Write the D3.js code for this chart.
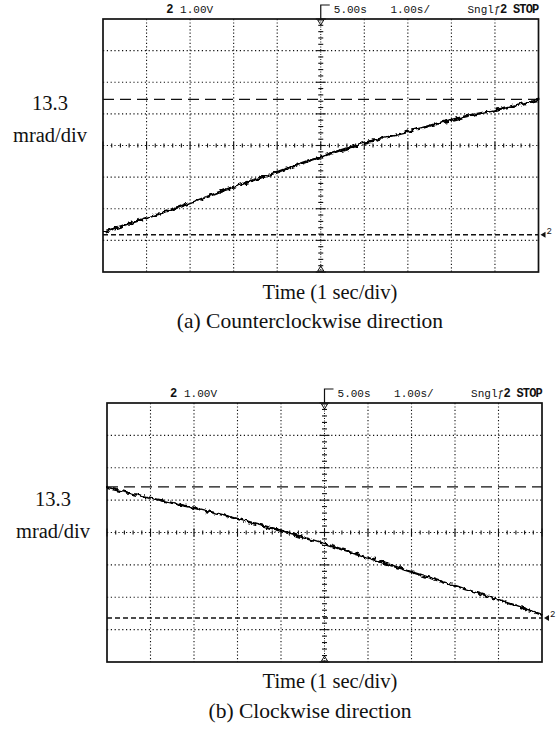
<!DOCTYPE html>
<html>
<head>
<meta charset="utf-8">
<script src="https://cdn.jsdelivr.net/npm/d3@7"></script>
<style>
    body { margin: 0; background: #fff; }
    svg { display: block; }
    .label { font-family: "Liberation Serif", "Times New Roman", serif; fill: #111; }
    .scope { font-family: "Liberation Mono", "DejaVu Sans Mono", monospace; fill: #111; }
</style>
</head>
<body>
<svg id="figure" width="557" height="736"></svg>
<script>
// time axis (seconds), one point per division
const traceTimes = [0, 1, 2, 3, 4, 5, 6, 7, 8, 9, 10];

// trace values in screen divisions from centre line (13.3 mrad/div)
const ccwTrace = [-2.74, -2.29, -1.82, -1.31, -0.84, -0.36, 0.08, 0.43, 0.81, 1.12, 1.44];
const cwTrace = [1.38, 1.07, 0.76, 0.42, 0.05, -0.35, -0.78, -1.22, -1.65, -2.08, -2.54];

// cursor (dashed) levels in divisions
const ccwCursors = [1.46, -2.82];
const cwCursors = [1.41, -2.64];

// scope header text
const headerChannel = "2";
const headerVolts = "1.00V";
const headerDelay = "5.00s";
const headerTimebase = "1.00s/";
const headerMode = "Sngl";
const headerStop = "2 STOP";

const scaleLabel = ["13.3", "mrad/div"];
const timeLabel = "Time (1 sec/div)";
const captions = ["(a) Counterclockwise direction", "(b) Clockwise direction"];

const panels = [
    { trace: ccwTrace, cursors: ccwCursors, caption: captions[0],
      left: 103, right: 538.5, top: 19, bottom: 272,
      labelX: 50, labelY: [110, 142], timeY: 299, captionY: 328 },
    { trace: cwTrace, cursors: cwCursors, caption: captions[1],
      left: 107, right: 542, top: 403, bottom: 662,
      labelX: 53, labelY: [506, 538], timeY: 688, captionY: 718 }
];

let svg = d3.select("#figure");

svg.append("defs")
    .append("filter")
        .attr("id", "jag")
        .attr("x", "-5%").attr("y", "-20%")
        .attr("width", "110%").attr("height", "140%")
    .call(f => {
        f.append("feTurbulence")
            .attr("type", "fractalNoise")
            .attr("baseFrequency", 0.22)
            .attr("numOctaves", 2)
            .attr("seed", 4)
            .attr("result", "noise");
        f.append("feDisplacementMap")
            .attr("in", "SourceGraphic")
            .attr("in2", "noise")
            .attr("scale", 5)
            .attr("xChannelSelector", "R")
            .attr("yChannelSelector", "G");
    });

panels.forEach(drawPanel);

function isMajor(d) {
    let r = Math.abs(d % 1);
    return r < 0.01 || r > 0.99;
}

function drawPanel(p) {
    let g = svg.append("g");

    let x = d3.scaleLinear().domain([0, 10]).range([p.left, p.right]);
    let y = d3.scaleLinear().domain([-4, 4]).range([p.bottom, p.top]);

    // dotted graticule
    g.selectAll(".vgrid")
        .data(x.ticks(10).filter(d => d > 0 && d < 10 && d !== 5))
        .enter()
        .append("line")
            .attr("x1", d => x(d)).attr("x2", d => x(d))
            .attr("y1", p.top).attr("y2", p.bottom)
            .attr("stroke", "#111")
            .attr("stroke-width", 1.1)
            .attr("stroke-dasharray", "1.2 2.2");

    g.selectAll(".hgrid")
        .data(y.ticks(8).filter(d => d > -4 && d < 4))
        .enter()
        .append("line")
            .attr("x1", p.left).attr("x2", p.right)
            .attr("y1", d => y(d)).attr("y2", d => y(d))
            .attr("stroke", "#111")
            .attr("stroke-width", 1.1)
            .attr("stroke-dasharray", "1.2 2.6");

    // centre axes with minor ticks
    g.append("line")
        .attr("x1", x(5)).attr("x2", x(5))
        .attr("y1", p.top).attr("y2", p.bottom)
        .attr("stroke", "#111")
        .attr("stroke-dasharray", "1 1.5");

    g.selectAll(".ytick")
        .data(d3.range(-4, 4.001, 0.2))
        .enter()
        .append("line")
            .attr("x1", d => x(5) - (isMajor(d) ? 5 : 2.5))
            .attr("x2", d => x(5) + (isMajor(d) ? 5 : 2.5))
            .attr("y1", d => y(d)).attr("y2", d => y(d))
            .attr("stroke", "#111")
            .attr("stroke-width", 1.1);

    g.selectAll(".xtick")
        .data(d3.range(0, 10.001, 0.2))
        .enter()
        .append("line")
            .attr("x1", d => x(d)).attr("x2", d => x(d))
            .attr("y1", d => y(0) - (isMajor(d) ? 4 : 2))
            .attr("y2", d => y(0) + (isMajor(d) ? 4 : 2))
            .attr("stroke", "#111")
            .attr("stroke-width", 1.1);

    // cursors
    g.selectAll(".cursor")
        .data(p.cursors)
        .enter()
        .append("line")
            .attr("x1", p.left).attr("x2", p.right)
            .attr("y1", d => y(d)).attr("y2", d => y(d))
            .attr("stroke", "#111")
            .attr("stroke-width", (d, i) => i === 0 ? 1.3 : 1.6)
            .attr("stroke-dasharray", (d, i) => i === 0 ? "11 6" : "5 3");

    // trigger markers
    g.append("path")
        .attr("d", `M${x(5) - 3},${p.top + 1} L${x(5) + 3},${p.top + 1} L${x(5)},${p.top + 6} Z`)
        .attr("fill", "none").attr("stroke", "#111");
    g.append("path")
        .attr("d", `M${x(5) - 3},${p.bottom - 1} L${x(5) + 3},${p.bottom - 1} L${x(5)},${p.bottom - 6} Z`)
        .attr("fill", "none").attr("stroke", "#111");

    // frame
    g.append("rect")
        .attr("x", p.left).attr("y", p.top)
        .attr("width", p.right - p.left).attr("height", p.bottom - p.top)
        .attr("fill", "none")
        .attr("stroke", "#111")
        .attr("stroke-width", 1.7);

    // trace
    let line = d3.line()
        .x((d, i) => x(traceTimes[i]))
        .y(d => y(d))
        .curve(d3.curveMonotoneX);

    g.append("path")
        .datum(p.trace)
        .attr("d", line)
        .attr("fill", "none")
        .attr("stroke", "#000")
        .attr("stroke-width", 2.3)
        .attr("filter", "url(#jag)");

    // ground marker at right edge
    let gy = y(p.cursors[1]);
    g.append("path")
        .attr("d", `M${p.right + 2},${gy} L${p.right + 7},${gy - 3} L${p.right + 7},${gy + 3} Z`)
        .attr("fill", "#111");
    g.append("text")
        .classed("scope", true)
        .attr("x", p.right + 8).attr("y", gy - 1)
        .attr("font-size", "9px")
        .text(headerChannel);

    // scope header
    let hy = p.top - 6;
    g.append("text").classed("scope", true)
        .attr("x", x(1.45)).attr("y", hy)
        .attr("font-size", "12px").attr("font-weight", "bold")
        .text(headerChannel);
    g.append("text").classed("scope", true)
        .attr("x", x(1.77)).attr("y", hy)
        .attr("font-size", "11px")
        .text(headerVolts);
    g.append("path")
        .attr("d", `M${x(5) + 9},${hy - 8} L${x(5)},${hy - 8} L${x(5)},${p.top}`)
        .attr("fill", "none").attr("stroke", "#111").attr("stroke-width", 1.2);
    g.append("text").classed("scope", true)
        .attr("x", x(5.3)).attr("y", hy)
        .attr("font-size", "11px")
        .text(headerDelay);
    g.append("text").classed("scope", true)
        .attr("x", x(6.6)).attr("y", hy)
        .attr("font-size", "11px")
        .text(headerTimebase);
    g.append("text").classed("scope", true)
        .attr("x", x(8.37)).attr("y", hy)
        .attr("font-size", "11px")
        .text(headerMode + "ƒ");
    g.append("text").classed("scope", true)
        .attr("x", p.right).attr("y", hy)
        .attr("font-size", "12px").attr("font-weight", "bold")
        .style("text-anchor", "end")
        .style("letter-spacing", "-0.8px")
        .text(headerStop);

    // labels
    scaleLabel.forEach((t, i) => {
        g.append("text").classed("label", true)
            .attr("x", p.labelX).attr("y", p.labelY[i])
            .attr("font-size", "20.5px")
            .style("text-anchor", "middle")
            .text(t);
    });
    g.append("text").classed("label", true)
        .attr("x", 330).attr("y", p.timeY)
        .attr("font-size", "20.5px")
        .style("text-anchor", "middle")
        .text(timeLabel);
    g.append("text").classed("label", true)
        .attr("x", 310).attr("y", p.captionY)
        .attr("font-size", "21.5px")
        .style("text-anchor", "middle")
        .text(p.caption);
}
</script>
</body>
</html>
